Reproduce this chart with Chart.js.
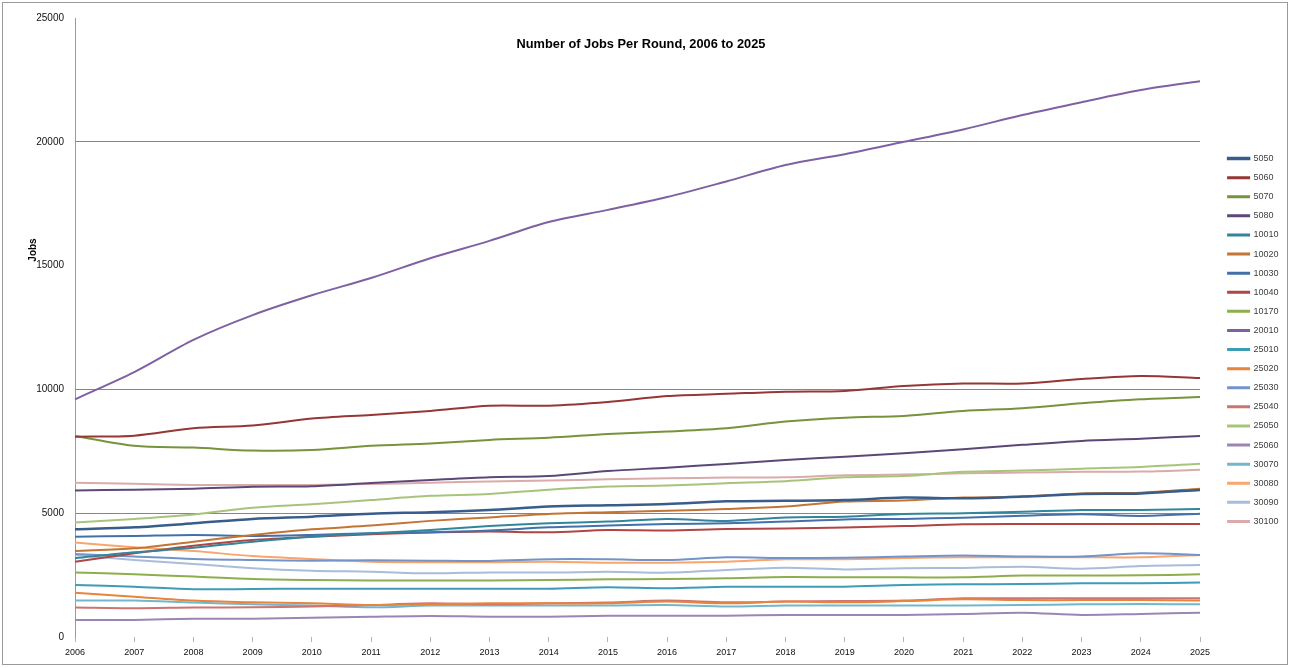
<!DOCTYPE html>
<html>
<head>
<meta charset="utf-8">
<title>Number of Jobs Per Round</title>
<script src="https://cdn.jsdelivr.net/npm/chart.js@4/dist/chart.umd.min.js"></script>
<style>
body{ margin:0; background:#fff; }
#wrap{ width:1290px; height:668px; }
</style>
</head>
<body>
<div id="wrap">
<canvas id="jobsChart" width="1290" height="668"></canvas>
</div>
<script>

// years on the category axis
const years = [2006,2007,2008,2009,2010,2011,2012,2013,2014,2015,2016,2017,2018,2019,2020,2021,2022,2023,2024,2025];

// rounds, in legend order
const roundNames = ["5050","5060","5070","5080","10010","10020","10030","10040","10170","20010",
"25010","25020","25030","25040","25050","25060","30070","30080","30090","30100"];

// jobs per round
const jobs5050  = [4350,4430,4590,4770,4860,4980,5040,5130,5270,5320,5370,5480,5500,5530,5630,5600,5670,5780,5800,5940];
const jobs5060  = [8090,8130,8430,8540,8820,8970,9130,9340,9340,9490,9730,9820,9910,9940,10140,10240,10240,10420,10540,10460];
const jobs5070  = [8120,7720,7650,7530,7550,7720,7820,7960,8050,8200,8300,8430,8700,8860,8930,9130,9240,9440,9600,9690];
const jobs5080  = [5920,5950,5990,6070,6090,6220,6340,6450,6500,6700,6840,6990,7150,7280,7420,7580,7760,7920,8010,8120];
const jobs10010 = [3180,3420,3600,3850,4050,4190,4320,4480,4590,4660,4770,4690,4830,4860,4970,5000,5060,5130,5130,5170];
const jobs10020 = [3470,3580,3850,4120,4350,4500,4690,4830,4970,5040,5100,5170,5270,5470,5510,5630,5670,5800,5830,5990];
const jobs10030 = [4050,4080,4120,4080,4120,4190,4230,4300,4430,4500,4560,4590,4660,4750,4770,4820,4900,4960,4890,4980];
const jobs10040 = [3040,3380,3690,3920,4050,4150,4220,4260,4230,4320,4300,4360,4380,4420,4480,4550,4560,4560,4560,4560];
const jobs10170 = [2610,2530,2440,2340,2300,2280,2280,2280,2300,2330,2340,2370,2420,2410,2410,2410,2480,2480,2490,2530];
const jobs20010 = [9600,10700,12000,13000,13800,14500,15300,16000,16760,17250,17770,18400,19060,19500,20000,20500,21080,21600,22090,22450];
const jobs25010 = [2100,2030,1930,1940,1950,1950,1950,1950,1950,2010,1970,2030,2030,2030,2100,2130,2140,2170,2170,2200];
const jobs25020 = [1790,1630,1470,1400,1360,1290,1320,1360,1360,1360,1430,1360,1430,1400,1450,1520,1490,1490,1490,1470];
const jobs25030 = [3350,3250,3150,3110,3080,3100,3080,3070,3140,3140,3110,3220,3190,3200,3250,3290,3250,3250,3380,3310];
const jobs25040 = [1190,1160,1190,1200,1230,1290,1360,1320,1360,1390,1470,1400,1430,1450,1470,1560,1560,1560,1560,1560];
const jobs25050 = [4620,4770,4950,5220,5360,5530,5700,5780,5950,6080,6120,6210,6290,6450,6500,6670,6720,6800,6870,7000];
const jobs25060 = [690,690,740,740,780,820,850,820,820,860,860,860,890,890,890,930,980,890,930,980];
const jobs30070 = [1470,1470,1390,1320,1270,1200,1270,1270,1270,1270,1290,1230,1270,1270,1270,1270,1290,1320,1330,1320];
const jobs30080 = [3820,3620,3470,3270,3150,3040,3020,3020,3040,3000,3000,3040,3140,3140,3190,3220,3220,3220,3220,3310];
const jobs30090 = [3310,3110,2950,2780,2680,2640,2570,2610,2600,2640,2600,2710,2800,2730,2780,2790,2840,2760,2870,2910];
const jobs30100 = [6230,6190,6140,6140,6140,6180,6230,6280,6320,6370,6410,6440,6450,6530,6560,6610,6640,6670,6680,6750];

const roundJobs = [jobs5050,jobs5060,jobs5070,jobs5080,jobs10010,jobs10020,jobs10030,jobs10040,jobs10170,jobs20010,
jobs25010,jobs25020,jobs25030,jobs25040,jobs25050,jobs25060,jobs30070,jobs30080,jobs30090,jobs30100];

// y axis labels
const jobTicks = [0,5000,10000,15000,20000,25000];

// line colours, same order as the rounds
const lineColours = ["#385D8A","#953735","#77933C","#5C4776","#31859C","#C27535","#4470AA","#B04643","#8CAF4B","#7F61A3",
"#3C9DB5","#E8843B","#7394C8","#CB7471","#A8C47C","#9B85B5","#72B7CC","#F9A56D","#A9BDDA","#D9ABAA"];

const datasets = roundNames.map((name,i)=>({
    label:name,
    data:roundJobs[i],
    borderColor:lineColours[i],
    backgroundColor:lineColours[i],
    borderWidth: name === "5050" ? 2.5 : 2,
    pointRadius:0,
    tension:0.3
}));

// legend sits a bit away from the plot, as in the spreadsheet
const legendNudge = {
    id:"legendNudge",
    afterLayout(chart){
        chart.legend.left += 18;
        chart.legend.right += 18;
    }
};

// title, y caption and outer frame, drawn inside the plot like the spreadsheet chart
const frameText = {
    id:"frameText",
    afterDraw(chart){
        const ctx = chart.ctx;
        ctx.save();

        ctx.strokeStyle = "#9a9a9a";
        ctx.lineWidth = 1;
        ctx.strokeRect(2.5,2.5,1285,662);

        ctx.fillStyle = "#000";
        ctx.font = "bold 12.8px 'Liberation Sans', Arial, sans-serif";
        ctx.textAlign = "center";
        ctx.textBaseline = "middle";
        ctx.fillText("Number of Jobs Per Round, 2006 to 2025",641,44);

        ctx.translate(33,250);
        ctx.rotate(-Math.PI/2);
        ctx.font = "bold 10px 'Liberation Sans', Arial, sans-serif";
        ctx.fillText("Jobs",0,0);

        ctx.restore();
    }
};

new Chart(
document.getElementById("jobsChart"),
{
    type:"line",
    data:{
        labels:years,
        datasets
    },
    options:{
        responsive:false,
        animation:false,
        devicePixelRatio:1,
        layout:{
            padding:{ top:18, left:0, right:4, bottom:6 }
        },
        plugins:{
            title:{ display:false },
            tooltip:{ enabled:false },
            legend:{
                position:"right",
                labels:{
                    boxWidth:21,
                    boxHeight:1,
                    padding:10.1,
                    color:"#404040",
                    font:{ size:9, family:"'Liberation Sans', Arial, sans-serif" }
                }
            }
        },
        scales:{
            x:{
                offset:false,
                border:{ display:false },
                grid:{
                    drawOnChartArea:false,
                    drawTicks:true,
                    tickLength:5,
                    color:"#b5b5b5"
                },
                ticks:{
                    autoSkip:false,
                    maxRotation:0,
                    padding:5,
                    color:"#111",
                    font:{ size:9, family:"'Liberation Sans', Arial, sans-serif" }
                },
                afterFit(scale){
                    scale.height = 25;
                    scale.paddingRight = 90;
                }
            },
            y:{
                min:0,
                max:25000,
                border:{ display:true, color:"#9a9a9a" },
                grid:{
                    drawTicks:false,
                    color:(c)=> [5000,10000,20000].includes(c.tick.value) ? "#868686" : "rgba(0,0,0,0)"
                },
                afterBuildTicks(scale){
                    scale.ticks = jobTicks.map(v=>({ value:v }));
                },
                ticks:{
                    padding:11,
                    color:"#111",
                    callback:(v)=> String(v),
                    font:{ size:10, family:"'Liberation Sans', Arial, sans-serif" }
                },
                afterFit(scale){ scale.width = 75; }
            }
        }
    },
    plugins:[frameText,legendNudge]
});

</script>
</body>
</html>
